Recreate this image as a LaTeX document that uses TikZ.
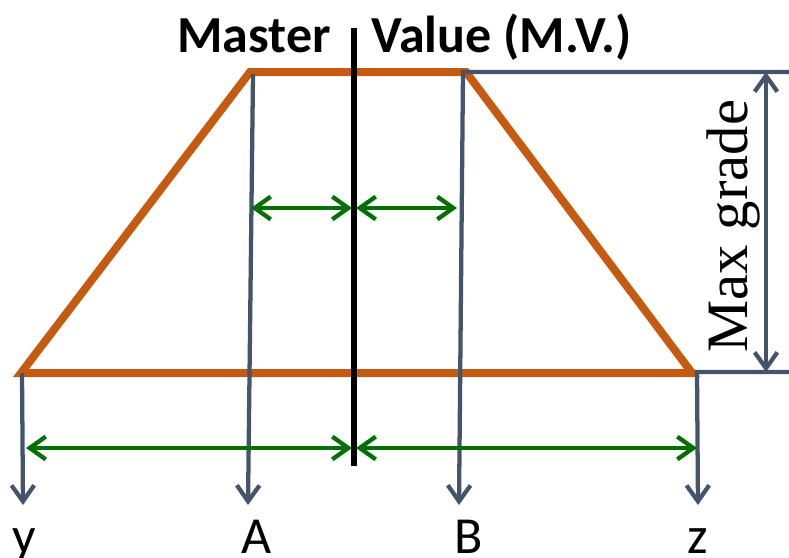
\documentclass[tikz,border=0pt]{standalone}
\usepackage{fontspec}
\setmainfont{Carlito}
\newfontfamily\timesface{Liberation Serif}
\usetikzlibrary{arrows.meta}
\definecolor{rust}{RGB}{197,90,17}
\definecolor{slate}{RGB}{68,84,106}
\definecolor{leaf}{RGB}{0,112,0}
\tikzset{
  grade/.style={draw=rust, line width=6pt, line join=miter},
  drop/.style={draw=slate, line width=3.2pt, -{Straight Barb[length=12pt,width=17pt]}},
  span/.style={draw=leaf, line width=3.2pt, {Straight Barb[length=12pt,width=17pt]}-{Straight Barb[length=12pt,width=17pt]}},
  lab/.style={inner sep=0pt, anchor=base, font=\fontsize{39}{40}\selectfont}
}
\begin{document}
\begin{tikzpicture}[x=0.75pt, y=-0.75pt]
\useasboundingbox (0,0) rectangle (789,557);
% trapezoid
\coordinate (tl) at (250,72);
\coordinate (tr) at (466,72);
\coordinate (br) at (692,373);
\coordinate (bl) at (21,373);
\draw[grade] (bl) -- (tl) -- (tr) -- (br) -- cycle;
% title
\node[inner sep=0pt, anchor=base east, font=\bfseries\fontsize{39}{40}\selectfont] (mst) at (331,52) {Master};
\node[inner sep=0pt, anchor=base west, font=\bfseries\fontsize{39}{40}\selectfont] (val) at (371,52) {Value (M.V.)};
% labels
\node[lab] (ly) at (24,553) {y};
\node[lab] (la) at (257,553) {A};
\node[lab] (lb) at (469,553) {B};
\node[lab] (lz) at (698,553) {z};
% drops
\coordinate (ay) at (22,373);
\coordinate (ey) at (23,505);
\coordinate (aa) at (253,74);
\coordinate (ea) at (248,505);
\coordinate (ab) at (463,72);
\coordinate (eb) at (459,505);
\coordinate (az) at (697,372);
\coordinate (ez) at (698,505);
\coordinate (rt) at (789,72);
\coordinate (rb) at (789,372);
\draw[drop] (ay) -- (ey);
\draw[drop] (aa) -- (ea);
\draw[drop] (rt) -- (ab) -- (eb);
\draw[drop] (rb) -- (az) -- (ez);
% max grade
\coordinate (gt) at (766,72);
\coordinate (gb) at (766,372);
\draw[drop, {Straight Barb[length=12pt,width=17pt]}-{Straight Barb[length=12pt,width=17pt]}] (gt) -- (gb);
\node[inner sep=0pt, anchor=base, rotate=90, font=\timesface\fontsize{44}{46}\selectfont] (mg) at (747,226) {Max grade};
% master value line
\coordinate (mt) at (354,28);
\coordinate (mb) at (354,466);
\draw[line width=5.2pt] (mt) -- (mb);
% widths
\coordinate (u1) at (251,208);
\coordinate (u2) at (352,208);
\coordinate (u3) at (356,208);
\coordinate (u4) at (457,208);
\coordinate (d1) at (26,448);
\coordinate (d2) at (352,448);
\coordinate (d3) at (356,448);
\coordinate (d4) at (697,448);
\draw[span] (u1) -- (u2);
\draw[span] (u3) -- (u4);
\draw[span] (d1) -- (d2);
\draw[span] (d3) -- (d4);
\end{tikzpicture}
\end{document}
